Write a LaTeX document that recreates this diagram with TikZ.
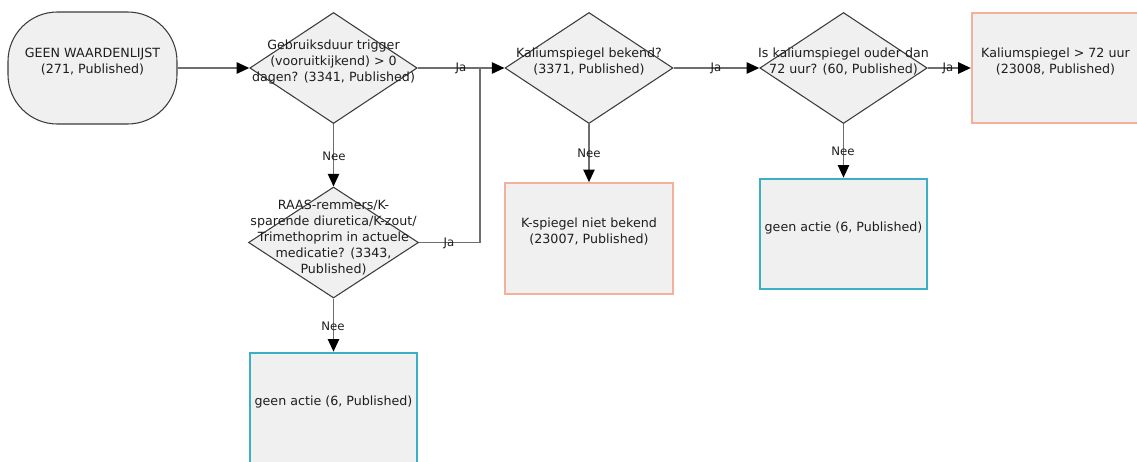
\documentclass[tikz,border=0pt]{standalone}
\usepackage{fontspec}
\setmainfont{DejaVu Sans}
\usetikzlibrary{shapes.geometric,arrows.meta}
\definecolor{shapefill}{HTML}{F0F0F0}
\definecolor{shapeline}{HTML}{3C3C3C}
\definecolor{connline}{HTML}{6E6E6E}
\definecolor{salmon}{HTML}{F5B09B}
\definecolor{tealb}{HTML}{3BAFC6}
\definecolor{txt}{HTML}{1E1E1E}
\tikzset{
  x=0.75pt, y=-0.75pt,
  every node/.style={font=\fontsize{9.5}{12}\selectfont, text=txt},
  terminal/.style={draw=shapeline, line width=0.8pt, fill=shapefill, rectangle, rounded corners=37pt,
    minimum width=126.75pt, minimum height=84pt, inner sep=0pt},
  decision/.style={draw=shapeline, line width=0.8pt, fill=shapefill, diamond,
    minimum width=125.5pt, minimum height=83.25pt, inner sep=0pt},
  redbox/.style={draw=salmon, line width=1.5pt, fill=shapefill, rectangle,
    minimum width=125.5pt, minimum height=83pt, inner sep=0pt},
  bluebox/.style={draw=tealb, line width=1.5pt, fill=shapefill, rectangle,
    minimum width=125.5pt, minimum height=83pt, inner sep=0pt},
  lbl/.style={align=center, inner sep=0pt},
  conn/.style={draw=connline, line width=1.2pt, -{Triangle[length=9.5pt,width=8.5pt,color=black]}},
  plain/.style={draw=connline, line width=1.2pt},
  edgelbl/.style={inner sep=0pt, font=\fontsize{8.8}{10}\selectfont}
}
\begin{document}
\begin{tikzpicture}
\useasboundingbox (0,0) rectangle (1137,461);
\clip (0,0) rectangle (1137,461);
% shapes
\node[terminal] (start) at (92.5,68) {};
\node[decision] (d1) at (333.5,68) {};
\node[decision, minimum width=127.5pt] (raas) at (333.5,242.5) {};
\node[decision, minimum width=126pt] (d2) at (589,68) {};
\node[decision] (d3) at (843.5,68) {};
\node[redbox] (k72) at (1055.5,68) {};
\node[redbox] (kniet) at (589,238.5) {};
\node[bluebox] (ga2) at (843.5,234) {};
\node[bluebox] (ga1) at (333.5,408) {};
\coordinate (j) at (480,68);
% texts
\node[lbl] (tstart) at ([yshift=5pt]start.center) {GEEN WAARDENLIJST\\(271, Published)};
\node[lbl] (td1) at ([yshift=4.5pt]d1.center) {Gebruiksduur trigger\\(vooruitkijkend) {>} 0\\dagen? (3341, Published)};
\node[lbl] (traas) at ([yshift=4pt]raas.center) {RAAS-remmers/K-\\sparende diuretica/K-zout/\\Trimethoprim in actuele\\medicatie? (3343,\\Published)};
\node[lbl] (td2) at ([yshift=5pt]d2.center) {Kaliumspiegel bekend?\\(3371, Published)};
\node[lbl] (td3) at ([yshift=5pt]d3.center) {Is kaliumspiegel ouder dan\\72 uur? (60, Published)};
\node[lbl] (tk72) at ([yshift=5pt]k72.center) {Kaliumspiegel {>} 72 uur\\(23008, Published)};
\node[lbl] (tkniet) at ([yshift=5pt]kniet.center) {K-spiegel niet bekend\\(23007, Published)};
\node[lbl] (tga2) at ([yshift=4.5pt]ga2.center) {geen actie (6, Published)};
\node[lbl] (tga1) at ([yshift=4.5pt]ga1.center) {geen actie (6, Published)};
% connectors
\draw[conn] (start.east) -- (d1.west);
\draw[conn] (d1.east) -- (d2.west);
\draw[plain] (raas.east) -| (j);
\draw[conn] (d2.east) -- (d3.west);
\draw[conn] (d3.east) -- (k72.west);
\draw[conn] (d1.south) -- (raas.north);
\draw[conn] (raas.south) -- (ga1.north);
\draw[conn] (d2.south) -- (kniet.north);
\draw[conn] (d3.south) -- (ga2.north);
% edge labels
\node[edgelbl] (l1) at (461,68) {Ja};
\node[edgelbl] (l2) at (334,156) {Nee};
\node[edgelbl] (l3) at (449,243) {Ja};
\node[edgelbl] (l4) at (333,326) {Nee};
\node[edgelbl] (l5) at (716,68) {Ja};
\node[edgelbl] (l6) at (589,153) {Nee};
\node[edgelbl] (l7) at (948,68) {Ja};
\node[edgelbl] (l8) at (843,151) {Nee};
\end{tikzpicture}
\end{document}
